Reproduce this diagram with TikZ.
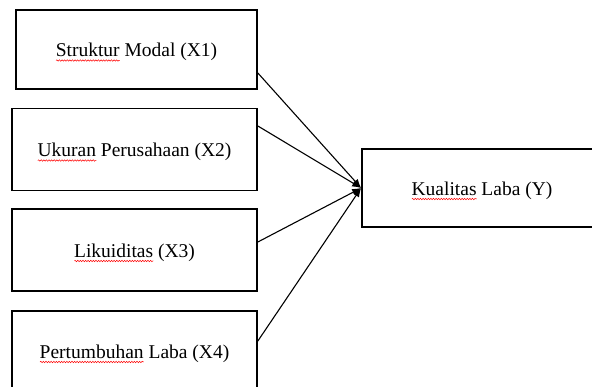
\documentclass[tikz,border=0pt]{standalone}
\usepackage{fontspec}
\setmainfont{Liberation Serif}
\usetikzlibrary{decorations.pathmorphing, arrows.meta}
\newcommand{\typo}[1]{\setbox0=\hbox{#1}\rlap{\smash{\tikz[baseline=0pt, x=1pt, y=1pt]
  \draw[red, line width=0.5pt, decorate, decoration={snake, amplitude=0.7pt, segment length=2.6pt}] (0, -3.5) -- (\the\wd0, -3.5);}}\box0\relax}
\tikzset{
  varbox/.style={draw, line width=1.7pt, rectangle, text height=17.5pt, text depth=2.5pt,
    font=\fontsize{19.5}{22}\selectfont},
  arrowline/.style={draw, line width=1.1pt, -{Latex[length=9pt, width=7pt]}}
}
\begin{document}
\begin{tikzpicture}[x=1pt, y=-1pt]
  \clip (0, 0) rectangle (592, 387);
  \fill[white] (0, 0) rectangle (592, 387);
  \node[varbox, minimum width=241pt, minimum height=79pt] (x1) at (136.5, 49.5) {\typo{Struktur} Modal (X1)};
  \node[varbox, minimum width=245pt, minimum height=82pt] (x2) at (134.5, 149.5) {\typo{Ukuran} Perusahaan (X2)};
  \node[varbox, minimum width=245pt, minimum height=82pt] (x3) at (134.5, 250) {\typo{Likuiditas} (X3)};
  \node[varbox, minimum width=245pt, minimum height=80pt] (x4) at (134.5, 351) {\typo{Pertumbuhan} Laba (X4)};
  \node[varbox, minimum width=240pt, minimum height=78pt] (y) at (482, 188) {\typo{Kualitas} Laba (Y)};
  \draw[arrowline] ([yshift=-23.5pt]x1.east) -- (y.west);
  \draw[arrowline] ([yshift=23.5pt]x2.east) -- (y.west);
  \draw[arrowline] ([yshift=8pt]x3.east) -- (y.west);
  \draw[arrowline] ([yshift=10pt]x4.east) -- (y.west);
\end{tikzpicture}
\end{document}
